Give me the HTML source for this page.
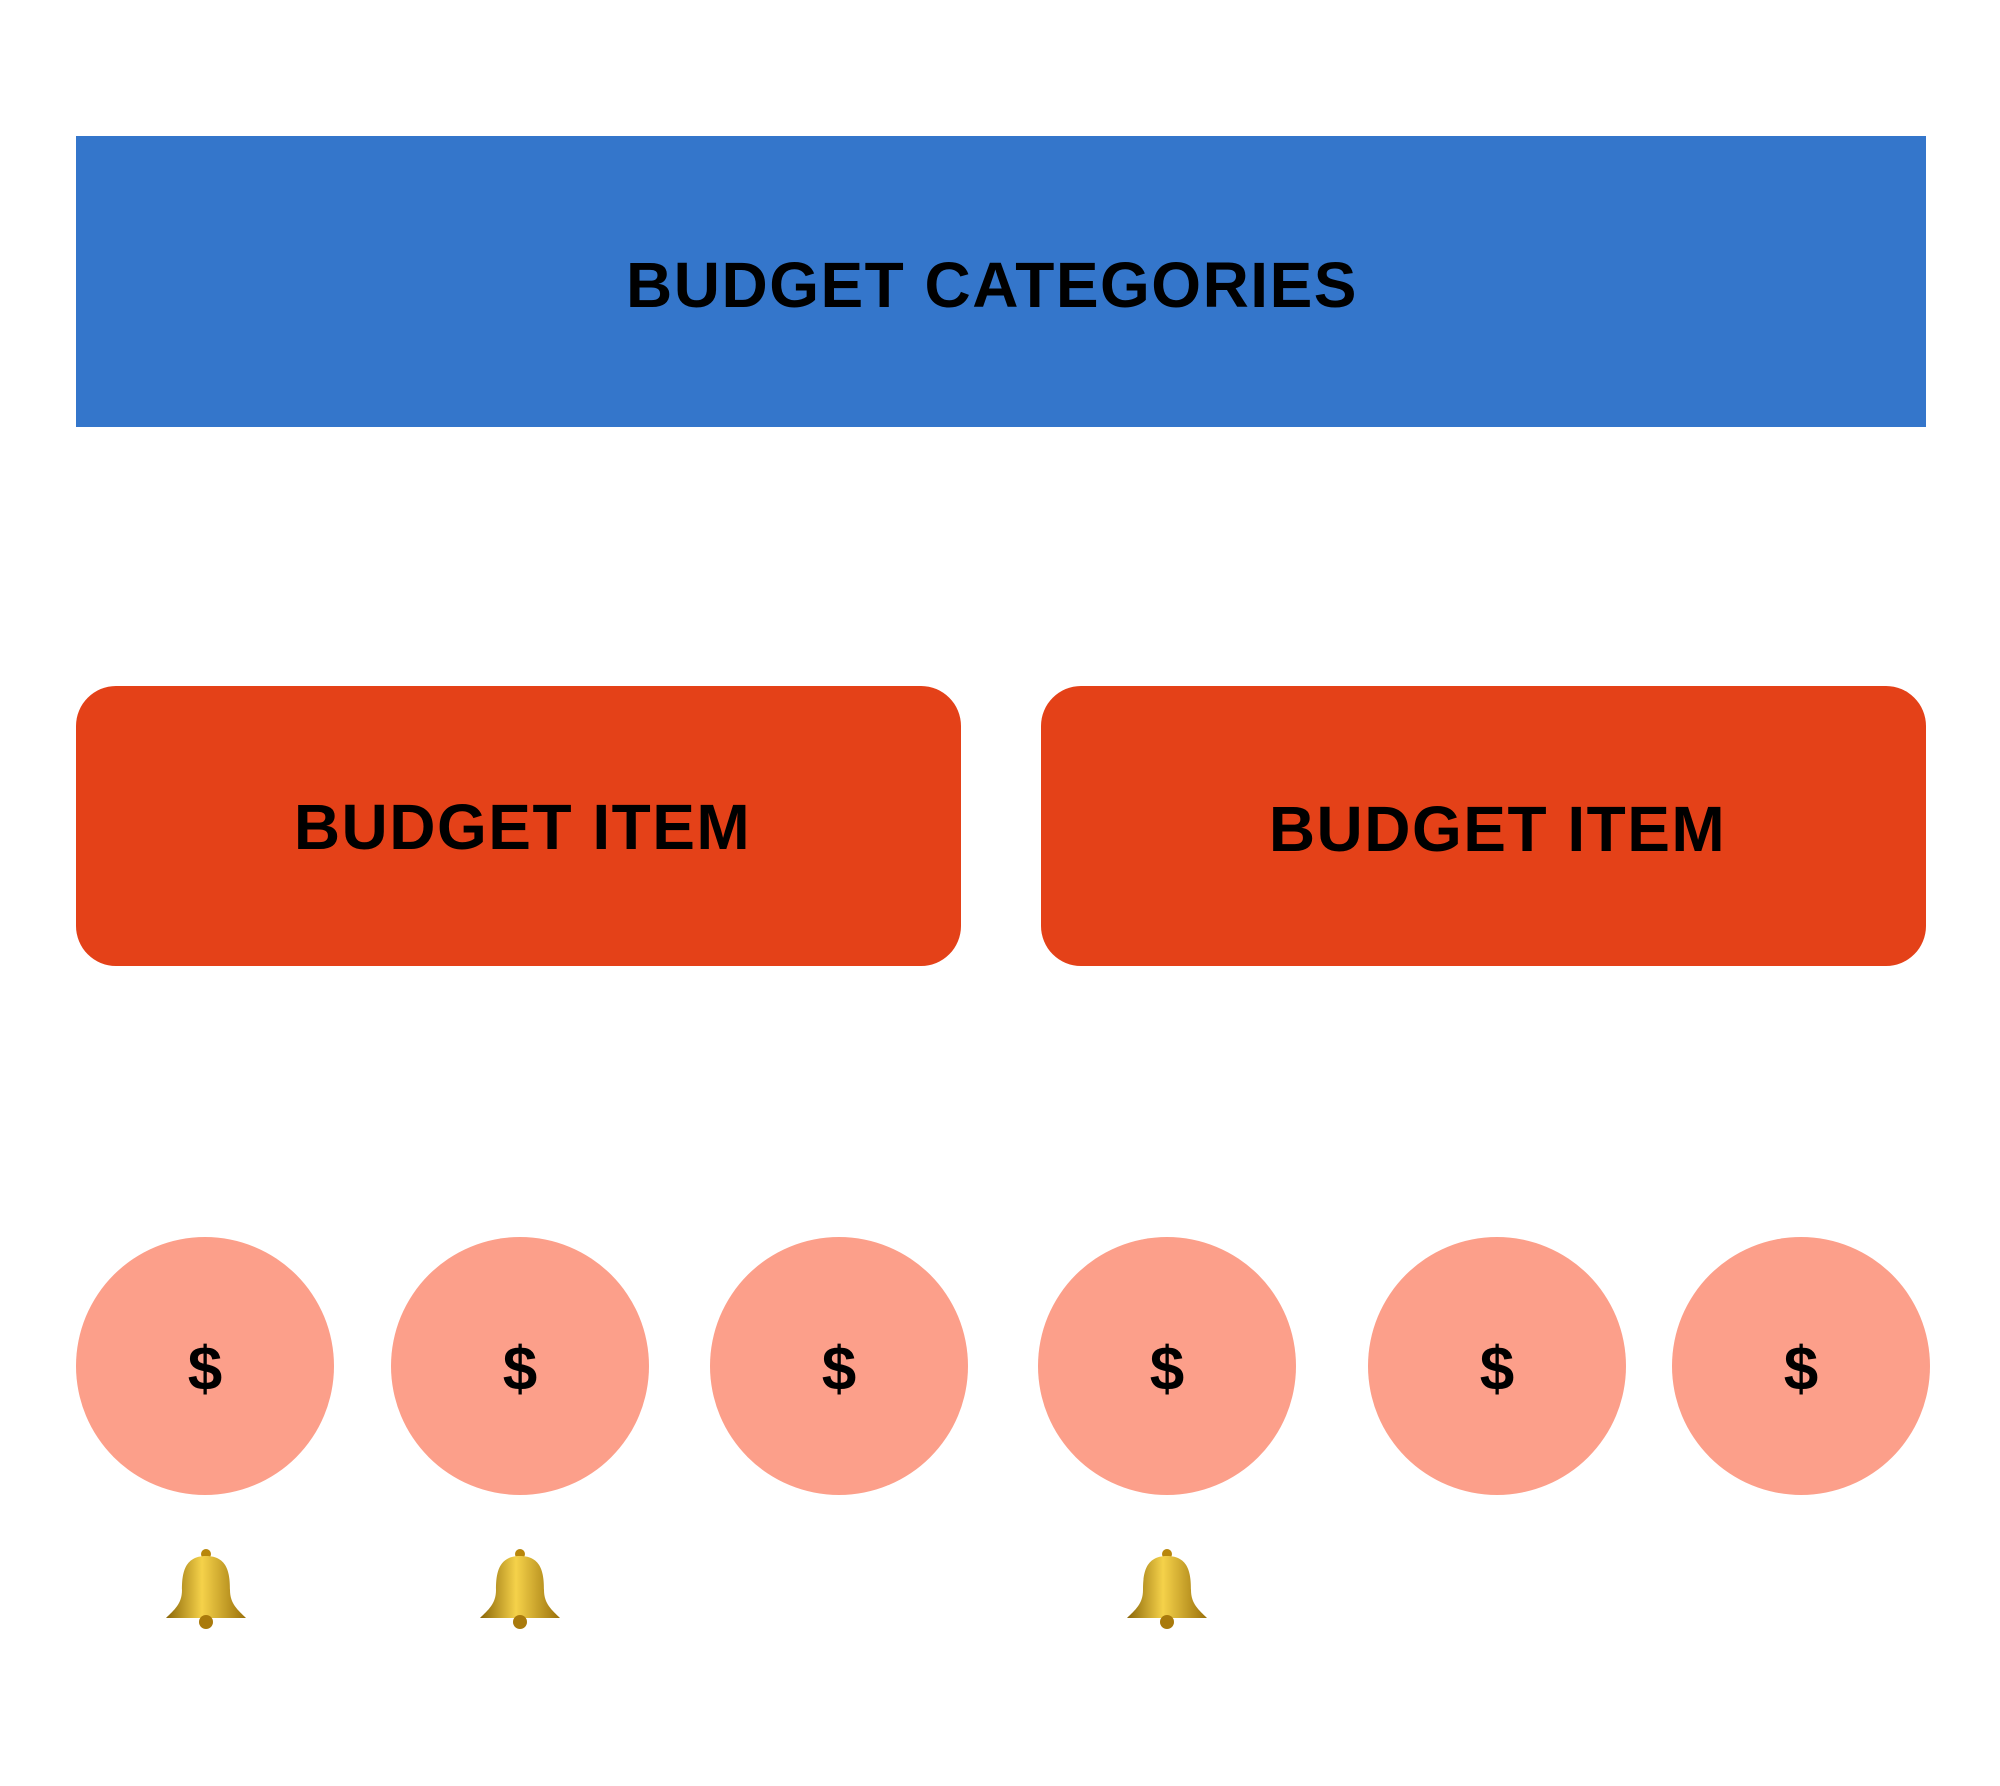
<!DOCTYPE html>
<html><head><meta charset="utf-8"><style>
html,body{margin:0;padding:0;background:#fff;}
body{width:2000px;height:1786px;position:relative;overflow:hidden;font-family:"Liberation Sans",sans-serif;font-weight:bold;color:#000;}
.b{position:absolute;display:flex;align-items:center;justify-content:center;box-sizing:border-box;}
.top{left:76px;top:136px;width:1850px;height:291px;background:#3476cb;font-size:64px;letter-spacing:1.5px;padding-top:6px;padding-right:18px;}
.item{top:686px;width:885px;height:280px;background:#e44118;border-radius:40px;font-size:64px;letter-spacing:1.5px;}
.c{top:1237px;width:258px;height:258px;border-radius:50%;background:#fc9f8a;font-size:62px;padding-top:6px;}
.bell{position:absolute;top:1546px;width:84px;height:84px;}
</style></head><body>
<div class="b top">BUDGET CATEGORIES</div>
<div class="b item" style="left:76px;padding-left:8px;padding-top:2px">BUDGET ITEM</div>
<div class="b item" style="left:1041px;padding-top:6px;padding-left:28px">BUDGET ITEM</div>
<div class="b c" style="left:76px">$</div>
<div class="b c" style="left:391px">$</div>
<div class="b c" style="left:710px">$</div>
<div class="b c" style="left:1038px">$</div>
<div class="b c" style="left:1368px">$</div>
<div class="b c" style="left:1672px">$</div>
<svg class="bell" style="left:164px" viewBox="0 0 84 84"><defs><linearGradient id="g" x1="0" x2="1"><stop offset="0" stop-color="#8a6508"/><stop offset=".45" stop-color="#f5d24a"/><stop offset="1" stop-color="#9a700a"/></linearGradient></defs><circle cx="42" cy="8" r="5" fill="#b8860b"/><path d="M42 10C20 10 18 28 18 44C18 58 10 64 2 72L82 72C74 64 66 58 66 44C66 28 64 10 42 10Z" fill="url(#g)"/><circle cx="42" cy="76" r="7" fill="#a97a0c"/></svg>
<svg class="bell" style="left:478px" viewBox="0 0 84 84"><circle cx="42" cy="8" r="5" fill="#b8860b"/><path d="M42 10C20 10 18 28 18 44C18 58 10 64 2 72L82 72C74 64 66 58 66 44C66 28 64 10 42 10Z" fill="url(#g)"/><circle cx="42" cy="76" r="7" fill="#a97a0c"/></svg>
<svg class="bell" style="left:1125px" viewBox="0 0 84 84"><circle cx="42" cy="8" r="5" fill="#b8860b"/><path d="M42 10C20 10 18 28 18 44C18 58 10 64 2 72L82 72C74 64 66 58 66 44C66 28 64 10 42 10Z" fill="url(#g)"/><circle cx="42" cy="76" r="7" fill="#a97a0c"/></svg>
</body></html>
